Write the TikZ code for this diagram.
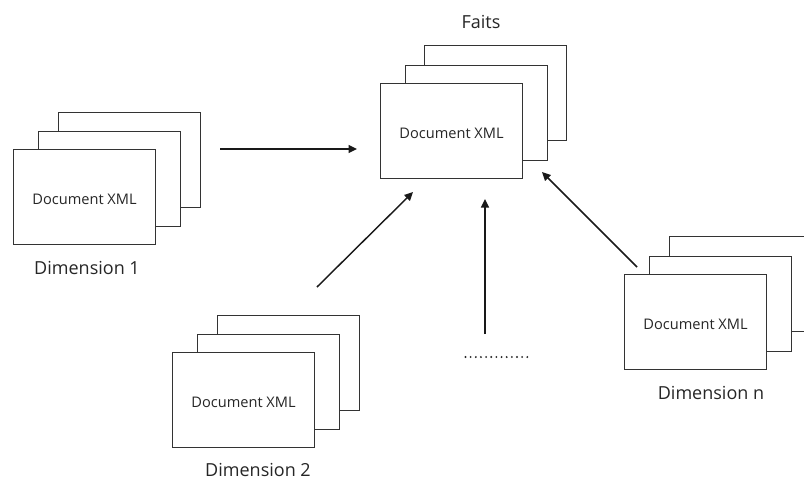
\documentclass[tikz,border=0pt]{standalone}
\usepackage{fontspec}
\setmainfont{Open Sans}
\usetikzlibrary{arrows.meta}
\tikzset{
  sheet/.style={draw=black!80,line width=1.1pt,fill=white,minimum width=142pt,minimum height=95pt,inner sep=0pt,anchor=north west,font=\fontsize{14.6}{16}\selectfont,text=black!85,text height=15.5pt,text depth=0pt},
  caption/.style={font=\fontsize{18}{20}\selectfont,text=black!85,inner sep=0pt},
  link/.style={draw=black!90,line width=1.45pt,-{Triangle[length=8.5pt,width=8pt]}},
  ellipsisline/.style={draw=black!85,line width=2.1pt,line cap=round,dash pattern=on 0pt off 5.15pt}
}
\begin{document}
\begin{tikzpicture}[x=1pt,y=-1pt]
\path[use as bounding box,fill=white] (0,0) rectangle (804,480);
\clip (0,0) rectangle (804,480);
% Faits
\node[sheet] (f3) at (424,45) {};
\node[sheet] (f2) at (405,65) {};
\node[sheet] (f1) at (380,83) {Document XML};
\node[caption] (ft) at (481,22) {Faits};
% Dimension 1
\node[sheet] (a3) at (58,111.5) {};
\node[sheet] (a2) at (38,130.5) {};
\node[sheet] (a1) at (13,149) {Document XML};
\node[caption] (at) at (87,268) {Dimension 1};
% Dimension 2
\node[sheet] (b3) at (217,315) {};
\node[sheet] (b2) at (197,334) {};
\node[sheet] (b1) at (172,352) {Document XML};
\node[caption] (bt) at (258,470) {Dimension 2};
% Dimension n
\node[sheet] (c3) at (669,236) {};
\node[sheet] (c2) at (649,256) {};
\node[sheet] (c1) at (624,274) {Document XML};
\node[caption] (ct) at (711,393) {Dimension n};
% connector ends
\coordinate (s1) at (220,149);
\coordinate (e1) at (357,149);
\coordinate (s2) at (317,287);
\coordinate (e2) at (413,192);
\coordinate (s3) at (485,334);
\coordinate (e3) at (485,199);
\coordinate (s4) at (637,267);
\coordinate (e4) at (542,172);
\coordinate (d1) at (465.5,357);
\coordinate (d2) at (527.5,357);
\draw[link] (s1) -- (e1);
\draw[link] (s2) -- (e2);
\draw[link] (s3) -- (e3);
\draw[link] (s4) -- (e4);
\draw[ellipsisline] (d1) -- (d2);
\end{tikzpicture}
\end{document}
